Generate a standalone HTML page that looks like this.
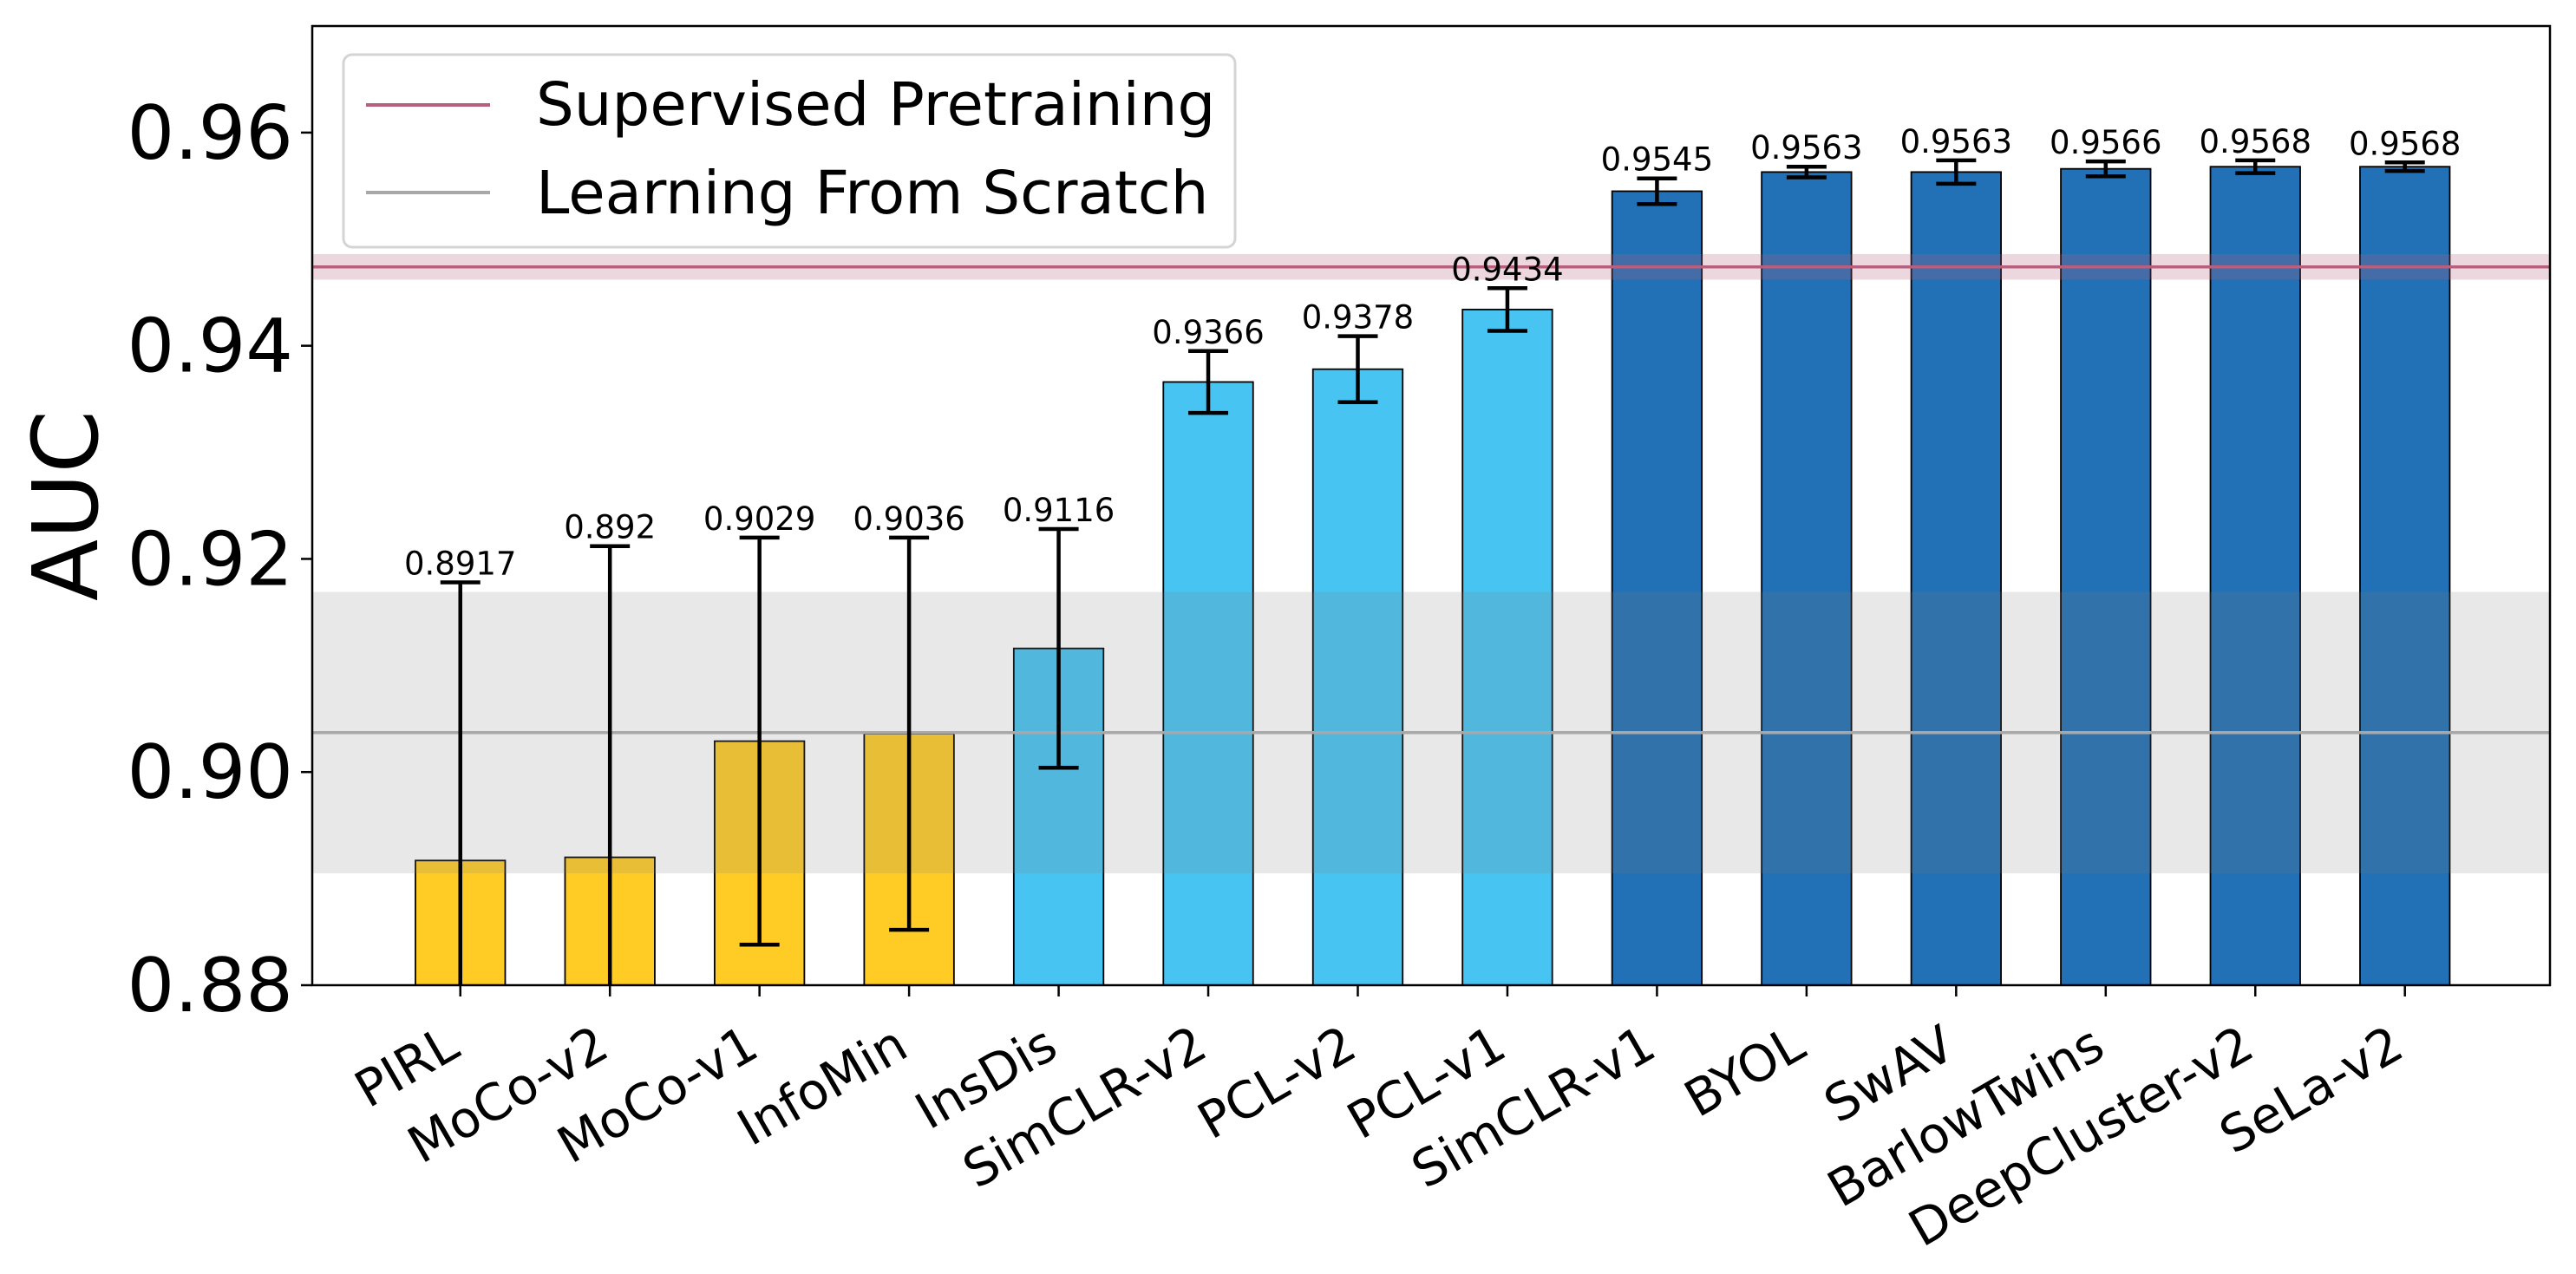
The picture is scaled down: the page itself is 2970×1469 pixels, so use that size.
<!DOCTYPE html>
<html><head><meta charset="utf-8"><style>
html,body{margin:0;padding:0;background:#fff;}
svg{display:block;font-family:"DejaVu Sans","Liberation Sans",sans-serif;}
</style></head><body>
<svg id="chart" width="2970" height="1469" viewBox="0 0 2970 1469" xmlns="http://www.w3.org/2000/svg"></svg>
<script>
const categories = ["PIRL","MoCo-v2","MoCo-v1","InfoMin","InsDis","SimCLR-v2","PCL-v2","PCL-v1","SimCLR-v1","BYOL","SwAV","BarlowTwins","DeepCluster-v2","SeLa-v2"];
const values = [0.8917,0.892,0.9029,0.9036,0.9116,0.9366,0.9378,0.9434,0.9545,0.9563,0.9563,0.9566,0.9568,0.9568];
const errors = [0.0261,0.0292,0.0191,0.0184,0.0112,0.0029,0.0031,0.002,0.0012,0.0005,0.0011,0.0007,0.0006,0.0004];
const groups = [0,0,0,0,1,1,1,1,2,2,2,2,2,2];
const yTicks = [0.88,0.90,0.92,0.94,0.96];
const supervised = [0.9474, 0.0012];
const scratch = [0.9037, 0.0132];

const svg = document.getElementById('chart');
const NS = 'http://www.w3.org/2000/svg';
const L=360, R=2940, T=30, B=1136;
const yMin=0.88, yMax=0.97, xMin=-0.99, xMax=13.97;
const y = v => B - (v-yMin)/(yMax-yMin)*(B-T);
const x = i => L + (i-xMin)/(xMax-xMin)*(R-L);
const colors = ["#ffcc26","#47c4f2","#2270b5"];
const bw = (x(0.3)-x(-0.3));
function el(tag, attrs, parent){const e=document.createElementNS(NS,tag);for(const k in attrs)e.setAttribute(k,attrs[k]);(parent||svg).appendChild(e);return e;}

const clip = el('clipPath',{id:'plotclip'});
el('rect',{x:L,y:T,width:R-L,height:B-T},clip);
const plot = el('g',{'clip-path':'url(#plotclip)'});

categories.forEach((c,i)=>{
  const r = el('rect',{x:x(i)-bw/2,y:y(values[i]),width:bw,height:B-y(values[i])+5,fill:colors[groups[i]],stroke:'#000','stroke-width':1.8},plot);
  
  
});
const sb = el('rect',{x:L,y:y(scratch[0]+scratch[1]),width:R-L,height:y(scratch[0]-scratch[1])-y(scratch[0]+scratch[1]),fill:'#808080','fill-opacity':0.18},plot);


const pb = el('rect',{x:L,y:y(supervised[0]+supervised[1]),width:R-L,height:y(supervised[0]-supervised[1])-y(supervised[0]+supervised[1]),fill:'#b5607e','fill-opacity':0.25},plot);


const sl = el('line',{x1:L,x2:R,y1:y(scratch[0]),y2:y(scratch[0]),stroke:'#a8a8a8','stroke-width':3.5},plot);


const pl = el('line',{x1:L,x2:R,y1:y(supervised[0]),y2:y(supervised[0]),stroke:'#b5607e','stroke-width':3.5},plot);



categories.forEach((c,i)=>{
  const g = el('g',{},plot);
  
  
  const cx=x(i), t=y(values[i]+errors[i]), b=y(values[i]-errors[i]);
  el('line',{x1:cx,x2:cx,y1:t,y2:b,stroke:'#000','stroke-width':4.5},g);
  el('line',{x1:cx-23,x2:cx+23,y1:t,y2:t,stroke:'#000','stroke-width':4.5},g);
  el('line',{x1:cx-23,x2:cx+23,y1:b,y2:b,stroke:'#000','stroke-width':4.5},g);
  const tx = el('text',{x:cx,y:t-9,'text-anchor':'middle','font-size':37,fill:'#000'});
  tx.textContent = String(values[i]);
  
  
});

const fr = el('rect',{x:L,y:T,width:R-L,height:B-T,fill:'none',stroke:'#000','stroke-width':2.5});



yTicks.forEach(v=>{
  el('line',{x1:L-13,x2:L,y1:y(v),y2:y(v),stroke:'#000','stroke-width':2.5});
  const t = el('text',{x:L-22,y:y(v)+30,'text-anchor':'end','font-size':86,fill:'#000'});
  t.textContent = v.toFixed(2);
  
  
});
categories.forEach((c,i)=>{
  el('line',{x1:x(i),x2:x(i),y1:B,y2:B+13,stroke:'#000','stroke-width':2.5});
  const t = el('text',{x:0,y:0,'text-anchor':'end','font-size':58,fill:'#000',transform:`translate(${x(i)+2},${B+80}) rotate(-30)`});
  t.textContent = c;
  
  
});
const yl = el('text',{x:0,y:0,'text-anchor':'middle','font-size':104,fill:'#000',transform:`translate(112,${(T+B)/2}) rotate(-90)`});
yl.textContent='AUC';



const lg = el('g',{});


el('rect',{x:396,y:63,width:1028,height:222,rx:10,fill:'#fff','fill-opacity':0.85,stroke:'#d4d4d4','stroke-width':3},lg);
el('line',{x1:422,x2:565,y1:121,y2:121,stroke:'#b5607e','stroke-width':4},lg);
el('line',{x1:422,x2:565,y1:222,y2:222,stroke:'#a8a8a8','stroke-width':4},lg);
const l1 = el('text',{x:618,y:144,'font-size':69,fill:'#000'},lg);
l1.textContent='Supervised Pretraining';


const l2 = el('text',{x:618,y:246,'font-size':69,fill:'#000'},lg);
l2.textContent='Learning From Scratch';


</script>
</body></html>
